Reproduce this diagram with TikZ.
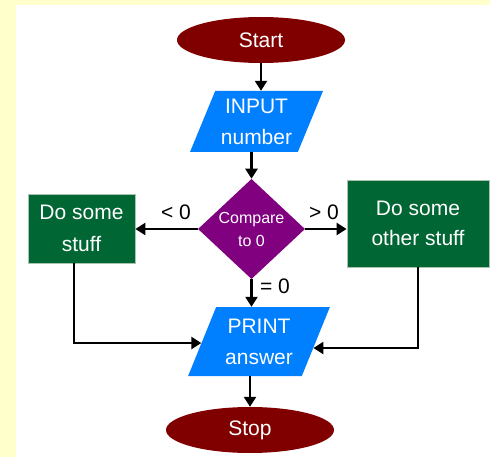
\documentclass[tikz,border=0pt]{standalone}
\usepackage{fontspec}
\setmainfont{Liberation Sans}
\usetikzlibrary{shapes.geometric,arrows.meta,calc}
\definecolor{bgyellow}{HTML}{FFFFCC}
\definecolor{termred}{HTML}{800000}
\definecolor{ioblue}{HTML}{0080FF}
\definecolor{decpurple}{HTML}{800080}
\definecolor{procgreen}{HTML}{006633}
\definecolor{procedge}{HTML}{A8C4B0}
\begin{document}
\begin{tikzpicture}[x=1pt,y=-1pt,
  term/.style={ellipse, fill=termred, text=white, minimum width=168pt, minimum height=46pt, inner sep=0pt, font=\fontsize{21}{25}\selectfont},
  io/.style={trapezium, trapezium stretches=true, fill=ioblue, text=white, inner sep=0pt, align=center, font=\fontsize{21}{31}\selectfont},
  decision/.style={diamond, fill=decpurple, text=white, inner sep=0pt, align=center, font=\fontsize{16}{23}\selectfont},
  process/.style={rectangle, fill=procgreen, draw=procedge, line width=0.8pt, text=white, inner sep=0pt, align=center},
  arr/.style={line width=2.4pt, -{Triangle[length=10pt,width=12pt]}},
  lbl/.style={font=\fontsize{21}{25}\selectfont, inner sep=0pt}
]
\useasboundingbox (0,0) rectangle (490,457);
\fill[bgyellow] (0,0) rectangle (490,457);
\fill[white] (16,5) rectangle (490,457);

\node[term] (start) at (261,40) {Start};
\node[io, trapezium left angle=64.6, trapezium right angle=115.4, minimum width=133pt, minimum height=61pt] (input) at (256.5,121.5) {INPUT\\number};
\node[decision, minimum width=107pt, minimum height=98pt] (cmp) at (251.5,229) {Compare\\to 0};
\node[process, minimum width=107pt, minimum height=69pt, font=\fontsize{21}{32}\selectfont] (left) at (81.5,228.5) {Do some\\stuff};
\node[process, minimum width=142pt, minimum height=87pt, font=\fontsize{21}{30}\selectfont] (right) at (418,223.5) {Do some\\other stuff};
\node[io, trapezium left angle=64.1, trapezium right angle=115.9, minimum width=142pt, minimum height=69pt] (print) at (259,341.5) {PRINT\\answer};
\node[term] (stop) at (250,430) {Stop};

\node[lbl] (ltlab) at (176,212) {< 0};
\node[lbl] (gtlab) at (324,212) {> 0};
\node[lbl] (eqlab) at (275,286.5) {= 0};

\coordinate (pl) at ($(print.bottom left corner)!0.478!(print.top left corner)$);
\coordinate (pr) at ($(print.bottom right corner)!0.406!(print.top right corner)$);

\draw[arr] (start.south) -- (start.south |- input.north);
\draw[arr] (cmp.north |- input.south) -- (cmp.north);
\draw[arr] (cmp.west) -- (left.east |- cmp.west);
\draw[arr] (cmp.east) -- (right.west |- cmp.east);
\draw[arr] (cmp.south) -- (cmp.south |- print.north);
\draw[arr] ([xshift=-7.5pt]left.south) |- (pl);
\draw[arr] (right.south) |- (pr);
\draw[arr] (stop.north |- print.south) -- (stop.north);
\end{tikzpicture}
\end{document}
